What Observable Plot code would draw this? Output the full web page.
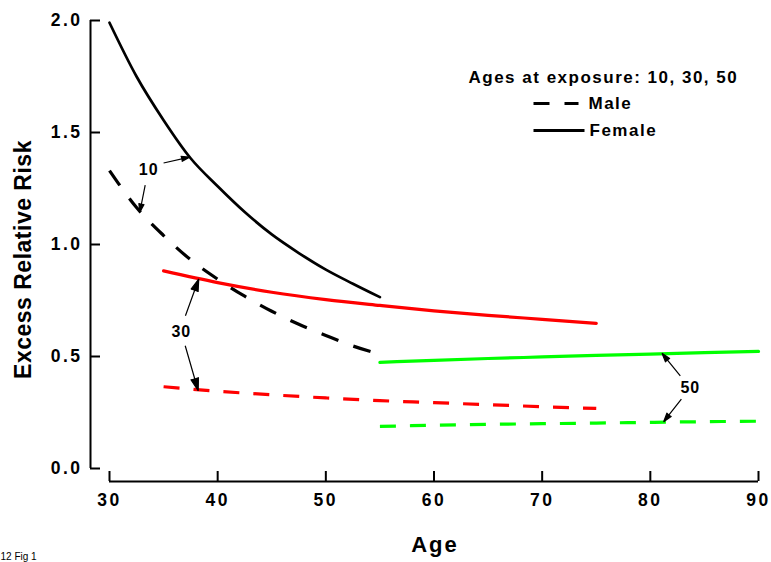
<!DOCTYPE html>
<html><head><meta charset="utf-8">
<script src="https://cdn.jsdelivr.net/npm/d3@7"></script>
<script src="https://cdn.jsdelivr.net/npm/@observablehq/plot@0.6"></script>
<style>html,body{margin:0;padding:0;background:#fff;}</style>
</head><body><div id="chart"></div>
<script>
// ---- data ----
const xTicks = [30, 40, 50, 60, 70, 80, 90];
const yTicks = [0, 0.5, 1, 1.5, 2];
const ages10 = [30, 32.5, 35, 37.5, 40, 42.5, 45, 47.5, 50, 52.5, 55];
const female10 = [1.99, 1.75, 1.555, 1.385, 1.26, 1.145, 1.045, 0.962, 0.888, 0.825, 0.765];
const male10 = [1.33, 1.165, 1.04, 0.932, 0.845, 0.769, 0.702, 0.644, 0.594, 0.547, 0.51];
const ages30 = [35, 40, 45, 50, 55, 60, 65, 70, 75];
const female30 = [0.882, 0.83, 0.787, 0.754, 0.728, 0.704, 0.684, 0.666, 0.648];
const male30 = [0.365, 0.345, 0.329, 0.315, 0.303, 0.294, 0.285, 0.276, 0.268];
const ages50 = [55, 60, 65, 70, 75, 80, 85, 90];
const female50 = [0.474, 0.483, 0.491, 0.498, 0.505, 0.511, 0.517, 0.523];
const male50 = [0.188, 0.193, 0.197, 0.2, 0.203, 0.206, 0.209, 0.211];
// annotation labels (exposure age) and arrows, in data units
const labelText = ["10", "30", "50"];
const labelAge = [33.63, 36.64, 83.7];
const labelErr = [1.333, 0.612, 0.362];
const arrowFromAge = [35.0, 33.3, 37.02, 37.0, 82.77, 82.87];
const arrowFromErr = [1.364, 1.265, 0.682, 0.548, 0.414, 0.31];
const arrowToAge = [37.4, 32.8, 38.25, 38.2, 81.08, 81.23];
const arrowToErr = [1.39, 1.144, 0.846, 0.347, 0.514, 0.209];
const legendTitle = "Ages at exposure: 10, 30, 50";
const legendMale = "Male";
const legendFemale = "Female";
const xLabel = "Age";
const yLabel = "Excess Relative Risk";
const caption = "12 Fig 1";

// ---- build tables ----
const toRows = (ages, vals) => ages.map((a, i) => ({age: a, err: vals[i]}));
const labels = labelText.map((t, i) => ({t, age: labelAge[i], err: labelErr[i]}));
const arrows = arrowFromAge.map((a, i) => ({x1: a, y1: arrowFromErr[i], x2: arrowToAge[i], y2: arrowToErr[i]}));

const black = "#000000", red = "#ff0000", green = "#00ff00";
const dash = "16,14";
const lineShape = {draw(ctx, l) { ctx.moveTo(0, 0); ctx.lineTo(0, -l); }};
const font = "'Liberation Sans', Arial, Helvetica, sans-serif";
const fy = d3.format(".1f"), fx = d3.format("d");

const svg = Plot.plot({
  width: 771,
  height: 562,
  marginLeft: 109,
  marginRight: 13,
  marginTop: 20,
  marginBottom: 94,
  x: {domain: [30, 90]},
  y: {domain: [0, 2]},
  style: {fontFamily: font, background: "#fff", color: "#000"},
  marks: [
    // axes
    Plot.ruleX([30], {y1: 0, y2: 2, dx: -19, strokeWidth: 2}),
    Plot.ruleY([0], {x1: 30, x2: 90, dy: 13, strokeWidth: 2}),
    Plot.axisY(yTicks, {anchor: "left", tickSize: 10, dx: -9, tickPadding: 8, strokeWidth: 2,
      fontSize: 17.5, fontWeight: "bold", tickFormat: fy, label: null}),
    Plot.axisX(xTicks, {anchor: "bottom", tickSize: 10, dy: 3, tickPadding: 12, strokeWidth: 2,
      fontSize: 17.5, fontWeight: "bold", tickFormat: fx, label: null}),
    // curves
    Plot.line(toRows(ages10, female10), {x: "age", y: "err", stroke: black, strokeWidth: 2.7, curve: "monotone-x"}),
    Plot.line(toRows(ages10, male10), {x: "age", y: "err", stroke: black, strokeWidth: 3.2, strokeDasharray: "18,16", strokeLinecap: "butt", curve: "monotone-x"}),
    Plot.line(toRows(ages30, female30), {x: "age", y: "err", stroke: red, strokeWidth: 3.2, curve: "monotone-x"}),
    Plot.line(toRows(ages30, male30), {x: "age", y: "err", stroke: red, strokeWidth: 3.2, strokeDasharray: dash, strokeLinecap: "butt", curve: "monotone-x"}),
    Plot.line(toRows(ages50, female50), {x: "age", y: "err", stroke: green, strokeWidth: 3.2, curve: "monotone-x"}),
    Plot.line(toRows(ages50, male50), {x: "age", y: "err", stroke: green, strokeWidth: 3.2, strokeDasharray: dash, strokeLinecap: "butt", curve: "monotone-x"}),
    // annotations
    Plot.arrow(arrows, {x1: "x1", y1: "y1", x2: "x2", y2: "y2", stroke: black, fill: black, strokeWidth: 1.2,
      headLength: 17, headAngle: 34, strokeLinejoin: "miter", strokeLinecap: "butt"}),
    Plot.text(labels, {x: "age", y: "err", text: "t", fontSize: 16, fontWeight: "bold"}),
    // legend
    Plot.text([legendTitle], {text: d => d, frameAnchor: "top-left", dx: 359, dy: 57, textAnchor: "start",
      lineAnchor: "middle", fontSize: 17, fontWeight: "bold"}),
    Plot.text([legendMale], {text: d => d, frameAnchor: "top-left", dx: 479, dy: 83, textAnchor: "start",
      lineAnchor: "middle", fontSize: 17, fontWeight: "bold"}),
    Plot.text([legendFemale], {text: d => d, frameAnchor: "top-left", dx: 480, dy: 110, textAnchor: "start",
      lineAnchor: "middle", fontSize: 17, fontWeight: "bold"}),
    Plot.vector([legendMale], {frameAnchor: "top-left", dx: 424, dy: 83, rotate: 90, length: 45, anchor: "start",
      shape: lineShape, stroke: black, strokeWidth: 3.2, strokeDasharray: "16,15", strokeLinecap: "butt"}),
    Plot.vector([legendFemale], {frameAnchor: "top-left", dx: 424, dy: 110, rotate: 90, length: 51, anchor: "start",
      shape: lineShape, stroke: black, strokeWidth: 3, strokeLinecap: "butt"}),
    // axis titles & caption
    Plot.text([xLabel], {text: d => d, frameAnchor: "bottom", dx: 1, dy: 76, textAnchor: "middle", lineAnchor: "middle",
      fontSize: 22, fontWeight: "bold"}),
    Plot.text([yLabel], {text: d => d, frameAnchor: "left", dx: -86, dy: 15, rotate: -90, textAnchor: "middle",
      lineAnchor: "middle", fontSize: 23, fontWeight: "bold"}),
    Plot.text([caption], {text: d => d, frameAnchor: "bottom-left", dx: -109, dy: 88, textAnchor: "start",
      lineAnchor: "middle", fontSize: 10})
  ]
});

// letter-spacing (tracking) of the reference's typeface
const tickSet = new Set([...xTicks.map(fx), ...yTicks.map(fy)]);
const spacing = new Map([
  [legendTitle, 1.5], [legendMale, 1.5], [legendFemale, 1.5],
  [xLabel, 2], [yLabel, 0.5], ...labelText.map(t => [t, 1])
]);
d3.select(svg).selectAll("text").each(function () {
  const t = this.textContent;
  const inTicks = this.closest("g[aria-label$='tick label']");
  const ls = inTicks && tickSet.has(t) ? 2.5 : spacing.get(t);
  if (ls != null) this.style.letterSpacing = ls + "px";
});
document.getElementById("chart").appendChild(svg);
</script>
</body></html>
